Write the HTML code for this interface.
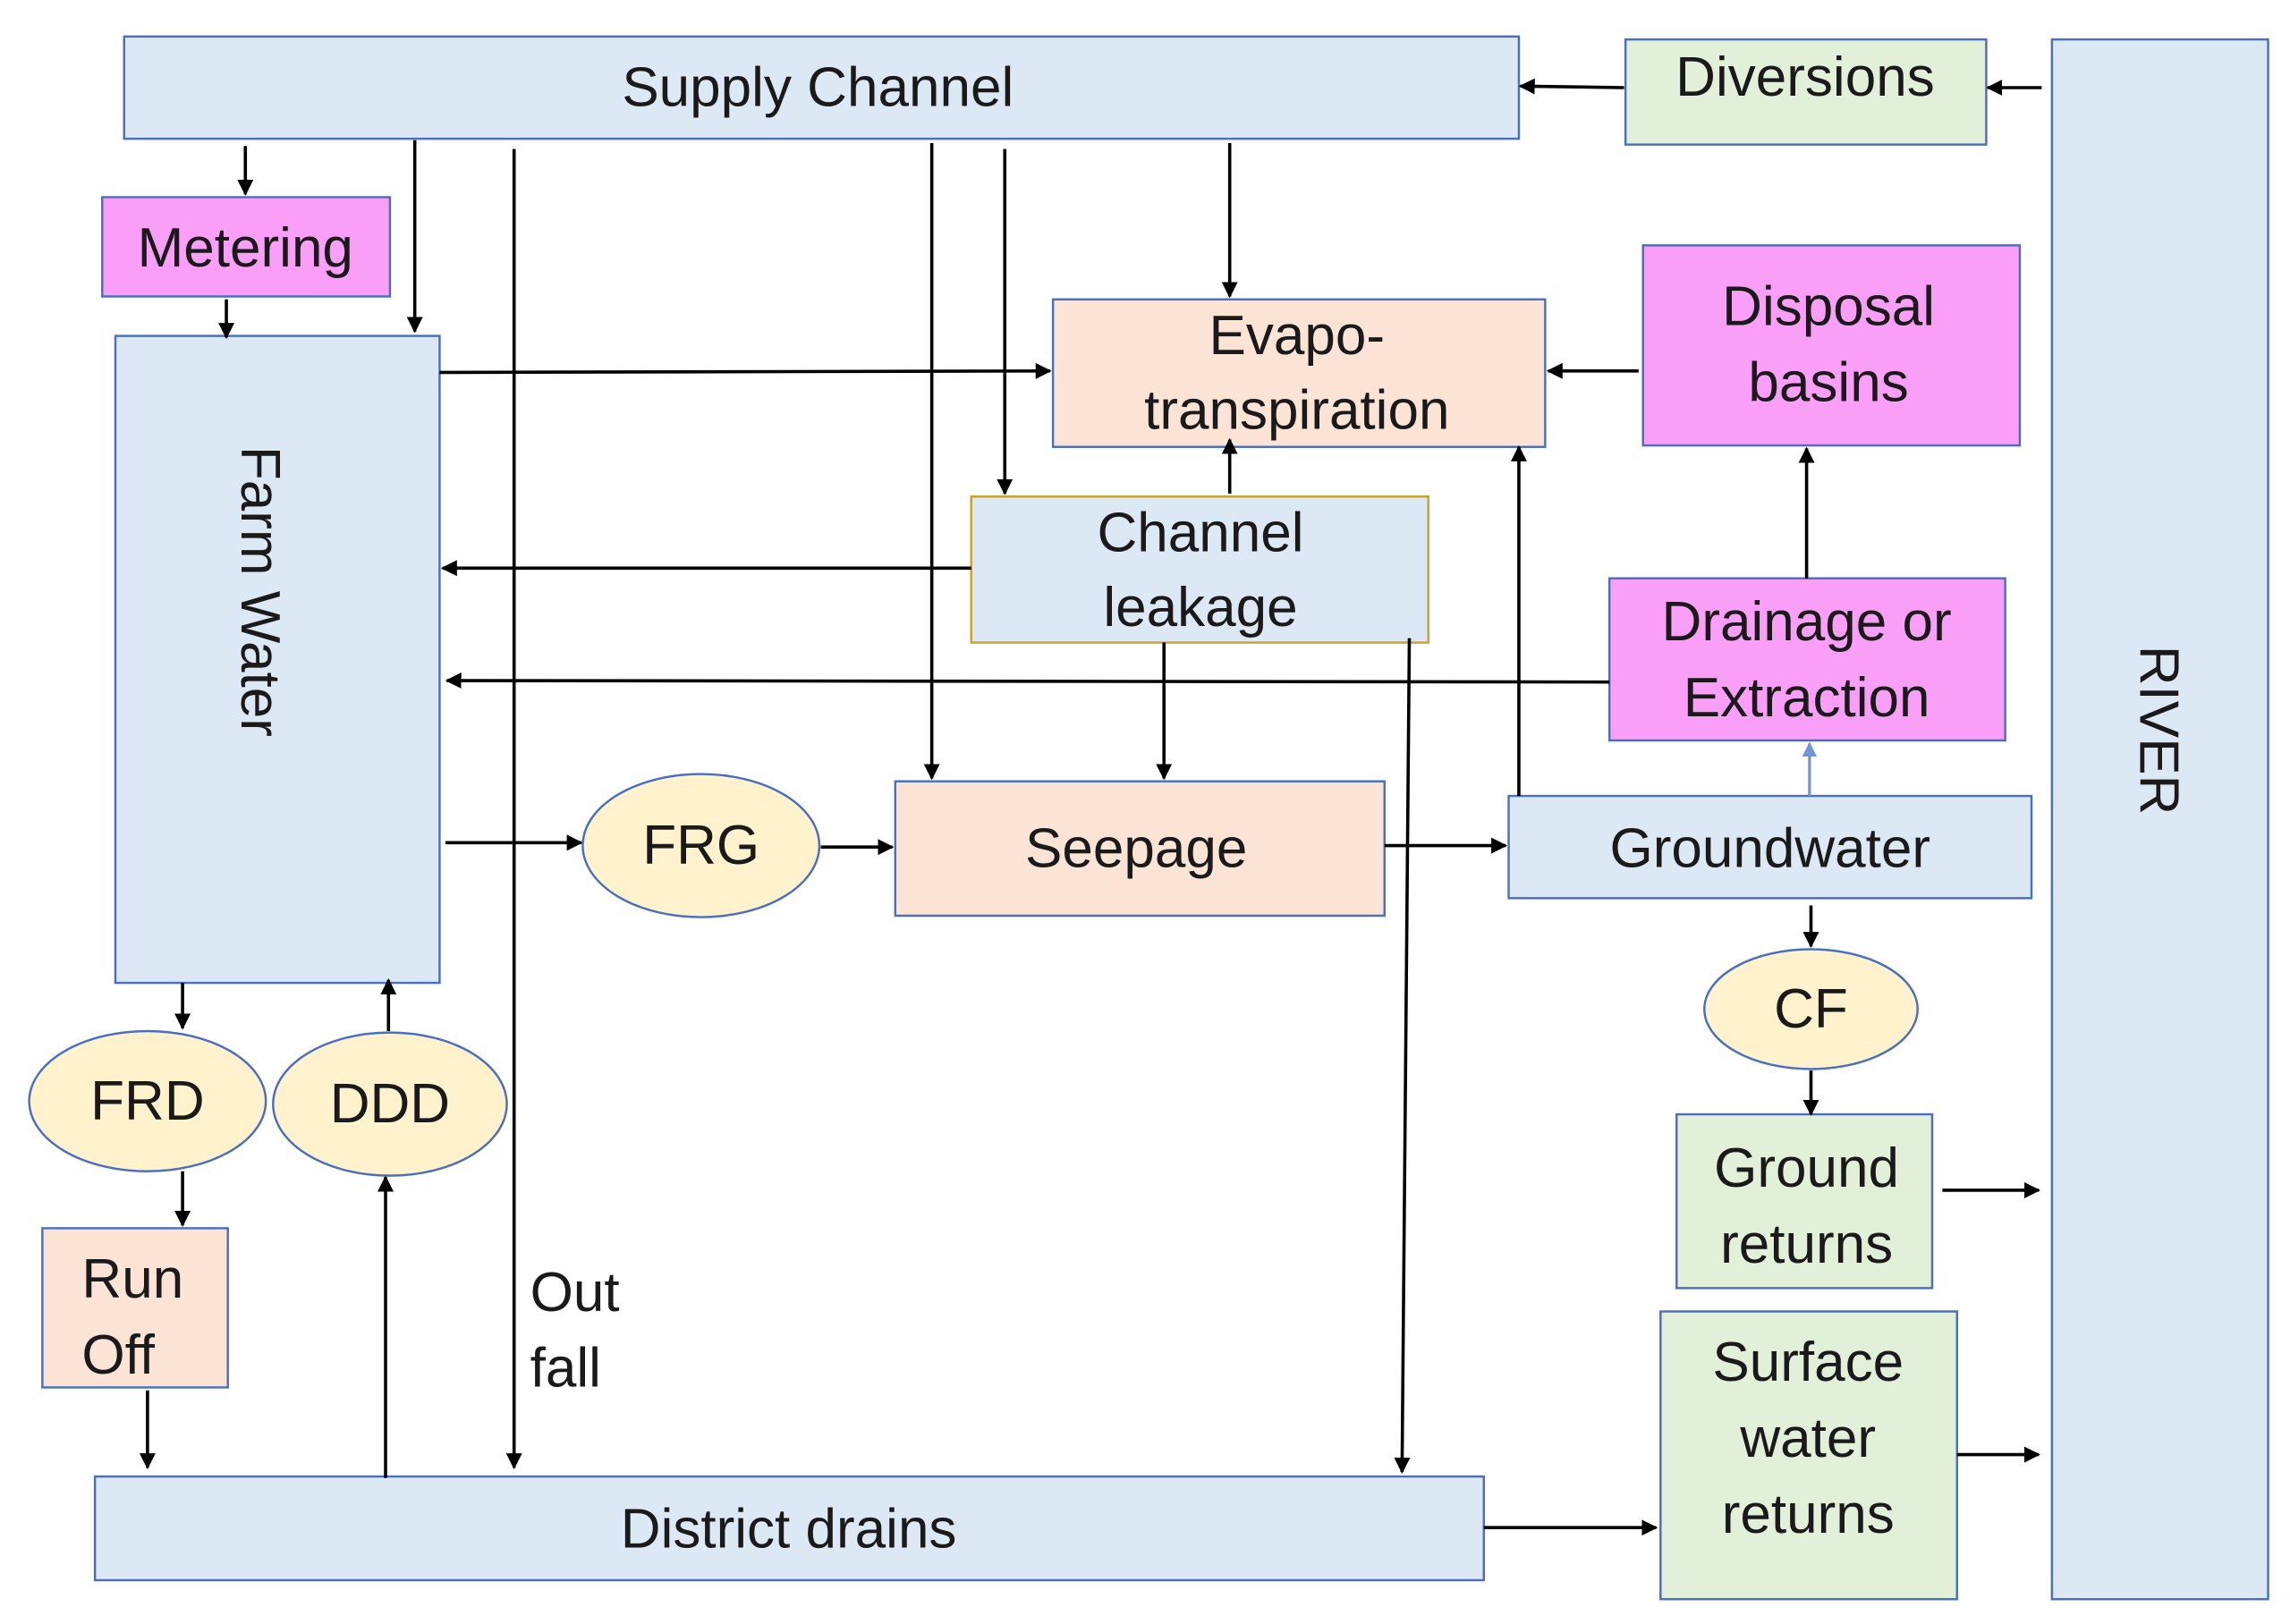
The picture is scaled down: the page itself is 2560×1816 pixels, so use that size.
<!DOCTYPE html>
<html><head><meta charset="utf-8"><style>
html,body{margin:0;padding:0;background:#fff;}
svg{display:block;}
text{font-family:"Liberation Sans","DejaVu Sans",sans-serif;font-size:38px;fill:#1a1a1a;}
</style></head><body>
<svg width="2560" height="1816" viewBox="0 0 1568 1112" preserveAspectRatio="none" xmlns="http://www.w3.org/2000/svg">
<defs>
<marker id="a" viewBox="0 0 10 10" refX="9" refY="5" markerWidth="5" markerHeight="5" orient="auto"><path d="M0,0 L10,5 L0,10 z" fill="#000"/></marker>
<marker id="b" viewBox="0 0 10 10" refX="9" refY="5" markerWidth="5" markerHeight="5" orient="auto"><path d="M0,0 L10,5 L0,10 z" fill="#6f96d8"/></marker>
</defs>
<rect width="1568" height="1112" fill="#fff"/>
<g stroke="#4a6fc0" stroke-width="1.5">
<rect x="85" y="25" width="955" height="70" fill="#dde8f5"/>
<rect x="1113" y="27" width="247" height="72" fill="#e2efd9"/>
<rect x="1405" y="27" width="148" height="1068" fill="#dde8f5"/>
<rect x="70" y="135" width="197" height="68" fill="#fa9ff8"/>
<rect x="79" y="230" width="222" height="443" fill="#dde8f5"/>
<rect x="721" y="205" width="337" height="101" fill="#fbe4d5"/>
<rect x="1125" y="168" width="258" height="137" fill="#fa9ff8"/>
<rect x="665" y="340" width="313" height="100" fill="#dde8f5" stroke="#c9a227"/>
<rect x="1102" y="396" width="271" height="111" fill="#fa9ff8"/>
<ellipse cx="480" cy="579" rx="81" ry="49" fill="#fff2cc"/>
<rect x="613" y="535" width="335" height="92" fill="#fbe4d5"/>
<rect x="1033" y="545" width="358" height="70" fill="#dde8f5"/>
<ellipse cx="1240" cy="691" rx="73" ry="41" fill="#fff2cc"/>
<rect x="1148" y="763" width="175" height="119" fill="#e2efd9"/>
<rect x="1137" y="898" width="203" height="197" fill="#e2efd9"/>
<ellipse cx="101" cy="754" rx="81" ry="48" fill="#fff2cc"/>
<ellipse cx="267" cy="756" rx="80" ry="49" fill="#fff2cc"/>
<rect x="29" y="841" width="127" height="109" fill="#fbe4d5"/>
<rect x="65" y="1011" width="951" height="71" fill="#dde8f5"/>
</g>
<g text-anchor="middle" dominant-baseline="central">
<text x="560" y="60">Supply Channel</text>
<text x="1236" y="53">Diversions</text>
<text x="1478" y="500" transform="rotate(90 1478 500)">RIVER</text>
<text x="168" y="170">Metering</text>
<text x="178" y="405" transform="rotate(90 178 405)">Farm Water</text>
<text x="888" y="230">Evapo-</text>
<text x="888" y="281">transpiration</text>
<text x="1252" y="210">Disposal</text>
<text x="1252" y="262">basins</text>
<text x="822" y="365">Channel</text>
<text x="822" y="416">leakage</text>
<text x="1237" y="426">Drainage or</text>
<text x="1237" y="478">Extraction</text>
<text x="480" y="579">FRG</text>
<text x="778" y="581">Seepage</text>
<text x="1212" y="581">Groundwater</text>
<text x="1240" y="691">CF</text>
<text x="1237" y="800">Ground</text>
<text x="1237" y="852">returns</text>
<text x="1238" y="933">Surface</text>
<text x="1238" y="985">water</text>
<text x="1238" y="1037">returns</text>
<text x="101" y="754">FRD</text>
<text x="267" y="756">DDD</text>
<text x="540" y="1047">District drains</text>
</g>
<g dominant-baseline="central">
<text x="56" y="876">Run</text>
<text x="56" y="928">Off</text>
<text x="363" y="885">Out</text>
<text x="363" y="937">fall</text>
</g>
<g stroke="#000" stroke-width="2.2" fill="none" marker-end="url(#a)">
<line x1="1112" y1="60" x2="1041" y2="59"/>
<line x1="1398" y1="60" x2="1361" y2="60"/>
<line x1="168" y1="100" x2="168" y2="133"/>
<line x1="155" y1="205" x2="155" y2="231"/>
<line x1="284" y1="96" x2="284" y2="227"/>
<line x1="352" y1="102" x2="352" y2="1005"/>
<line x1="638" y1="98" x2="638" y2="533"/>
<line x1="688" y1="102" x2="688" y2="338"/>
<line x1="842" y1="98" x2="842" y2="203"/>
<line x1="301" y1="255" x2="719" y2="254"/>
<line x1="1122" y1="254" x2="1060" y2="254"/>
<line x1="842" y1="338" x2="842" y2="301"/>
<line x1="665" y1="389" x2="303" y2="389"/>
<line x1="1102" y1="467" x2="306" y2="466"/>
<line x1="1040" y1="545" x2="1040" y2="306"/>
<line x1="1237" y1="396" x2="1237" y2="307"/>
<line x1="797" y1="440" x2="797" y2="533"/>
<line x1="965" y1="437" x2="960" y2="1008"/>
<line x1="305" y1="577" x2="398" y2="577"/>
<line x1="562" y1="580" x2="611" y2="580"/>
<line x1="948" y1="579" x2="1031" y2="579"/>
<line x1="1240" y1="620" x2="1240" y2="648"/>
<line x1="1240" y1="733" x2="1240" y2="763"/>
<line x1="1330" y1="815" x2="1396" y2="815"/>
<line x1="1340" y1="996" x2="1396" y2="996"/>
<line x1="1016" y1="1046" x2="1134" y2="1046"/>
<line x1="125" y1="673" x2="125" y2="704"/>
<line x1="266" y1="706" x2="266" y2="671"/>
<line x1="125" y1="802" x2="125" y2="839"/>
<line x1="101" y1="952" x2="101" y2="1005"/>
<line x1="264" y1="1012" x2="264" y2="806"/>
</g>
<line x1="1239" y1="545" x2="1239" y2="509" stroke="#6f96d8" stroke-width="2" marker-end="url(#b)"/>
</svg>
</body></html>
